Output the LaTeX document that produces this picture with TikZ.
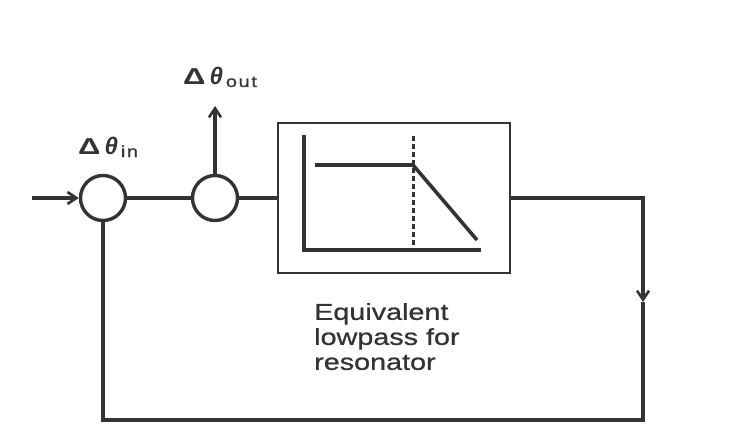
\documentclass[tikz,border=0pt]{standalone}
\usepackage{fontspec}
\newfontfamily\lab[FakeStretch=1.25,FakeBold=0.8]{Liberation Sans}
\newfontfamily\deltaf[FakeStretch=1.35]{Liberation Sans}
\newfontfamily\thf{Liberation Sans}
\newfontfamily\subf[FakeStretch=1.25,LetterSpace=10,FakeBold=0.8]{Liberation Sans}
\usetikzlibrary{arrows.meta}
\definecolor{ink}{HTML}{333333}
\tikzset{
  wire/.style={draw=ink, line width=3.4pt},
  junc/.style={circle, draw=ink, line width=3.4pt, minimum size=45pt, inner sep=0pt},
  filtbox/.style={rectangle, draw=ink, line width=2.6pt, minimum width=232pt, minimum height=150pt, inner sep=0pt},
  tip/.style={-{Straight Barb[length=9pt,width=12pt,line width=2.6pt]}},
  plotln/.style={draw=ink, line width=3.6pt},
  lbl/.style={text=ink, inner sep=0pt}
}
\newcommand{\dth}[1]{{\deltaf\bfseries\fontsize{23}{23}\selectfont Δ}\hspace{4pt}{\thf\bfseries\itshape\fontsize{24}{24}\selectfont θ}\hspace{3pt}\raisebox{-2pt}{\subf\fontsize{16}{16}\selectfont #1}}
\begin{document}
\begin{tikzpicture}[x=1pt,y=-1pt]
\useasboundingbox (0,0) rectangle (742,441);
\node[junc] (c1) at (103,198) {};
\node[junc] (c2) at (215,198) {};
\node[filtbox] (filt) at (394,198) {};
\coordinate (in) at (32,198);
\coordinate (out) at (215,106);
\coordinate (tr) at (643,198);
\coordinate (mid) at (643,302);
\coordinate (br) at (643,420);
\coordinate (bl) at (103,420);
% connectors
\draw[wire,tip] (in) -- (c1.west);
\draw[wire] (c1.east) -- (c2.west);
\draw[wire] (c2.east) -- (filt.west);
\draw[wire,tip] (c2.north) -- (out);
\draw[wire,tip,line join=miter] (filt.east) -- (tr) -- (mid);
\draw[wire,line join=miter] (mid) -- (br) -- (bl) -- (c1.south);
% plot inside the box
\draw[plotln] (304,135) -- (304,250) -- (481,250);
\draw[plotln] (315,165) -- (413,165) -- (477,240);
\draw[draw=ink, line width=3pt, dash pattern=on 5pt off 3pt] (413,136) -- (413,250);
% labels
\node[lbl, anchor=base west] (lin) at (78,155) {\dth{in}};
\node[lbl, anchor=base west] (lout) at (183,85) {\dth{out}};
\node[lbl, anchor=north west, align=left, font=\lab\fontsize{23}{25}\selectfont] (txt) at (314,303) {Equivalent\\lowpass for\\resonator};
\end{tikzpicture}
\end{document}
